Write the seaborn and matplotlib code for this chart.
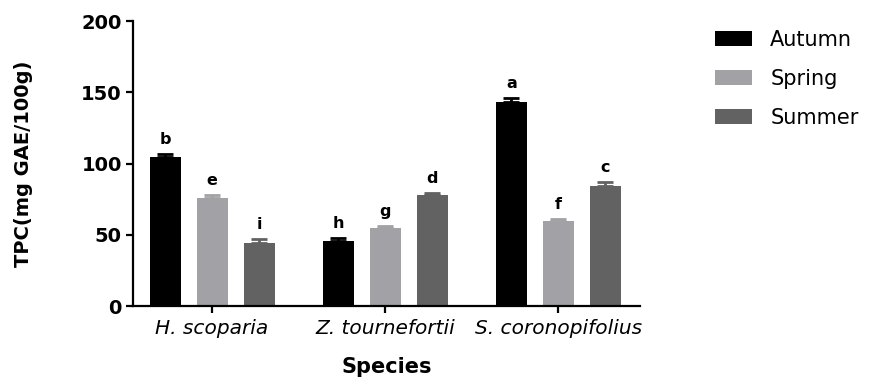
import seaborn as sns
import matplotlib.pyplot as plt
import pandas as pd

species = ["H. scoparia", "Z. tournefortii", "S. coronopifolius"]
seasons = ["Autumn", "Spring", "Summer"]
autumn = [105, 45.5, 143.5]
spring = [76, 55, 60]
summer = [44, 78, 84]
autumn_err = [1.5, 2.5, 2.3]
spring_err = [2.0, 1.3, 1.5]
summer_err = [3.0, 1.5, 3.0]
autumn_letters = ["b", "h", "a"]
spring_letters = ["e", "g", "f"]
summer_letters = ["i", "d", "c"]

colors = {"Autumn": "#000000", "Spring": "#a2a2a6", "Summer": "#626262"}

values = [autumn, spring, summer]
errors = [autumn_err, spring_err, summer_err]
letters = [autumn_letters, spring_letters, summer_letters]

rows = []
for s, vals in zip(seasons, values):
    for sp, v in zip(species, vals):
        rows.append({"Species": sp, "Season": s, "TPC": v})
df = pd.DataFrame(rows)

sns.set_style("ticks")
plt.rcParams["font.family"] = ["DejaVu Sans"]
plt.rcParams.update({"text.color": "black", "axes.labelcolor": "black",
                     "xtick.color": "black", "ytick.color": "black",
                     "axes.edgecolor": "black"})

fig = plt.figure(figsize=(8.75, 3.78), dpi=100)
ax = fig.add_axes([0.152, 0.190, 0.579, 0.754])

sns.barplot(data=df, x="Species", y="TPC", hue="Season", order=species,
            hue_order=seasons, palette=colors, errorbar=None, width=0.815,
            gap=0.34, saturation=1, linewidth=0, ax=ax)

for cont, s, errs, labs in zip(ax.containers, seasons, errors, letters):
    for bar, e, lab in zip(cont, errs, labs):
        x = bar.get_x() + bar.get_width() / 2
        h = bar.get_height()
        ax.errorbar(x, h, yerr=[[0], [e]], color=colors[s], capsize=5.5,
                    capthick=2, elinewidth=2, zorder=3)
        ax.annotate(lab, (x, h + e), xytext=(0, 5), textcoords="offset points",
                    ha="center", va="bottom", fontsize=11.5, fontweight="bold")

ax.set_ylim(0, 200)
ax.set_yticks([0, 50, 100, 150, 200])
ax.set_xlim(-0.457, 2.47)
for side in ["top", "right"]:
    ax.spines[side].set_visible(False)
for side in ["left", "bottom"]:
    ax.spines[side].set_linewidth(1.6)

ax.tick_params(axis="y", length=5, width=1.6, labelsize=14, pad=3)
ax.tick_params(axis="x", length=5, width=1.6, labelsize=14.5, pad=4)
for t in ax.get_yticklabels():
    t.set_fontweight("bold")
for t in ax.get_xticklabels():
    t.set_fontstyle("italic")

ax.set_ylabel("TPC(mg GAE/100g)", fontsize=14, fontweight="bold")
ax.yaxis.set_label_coords(-0.197, 0.5)
ax.set_xlabel("Species", fontsize=15, fontweight="bold")
ax.xaxis.set_label_coords(0.5, -0.18)

handles, labels = ax.get_legend_handles_labels()
ax.get_legend().remove()
fig.legend(handles, labels, loc="upper left", bbox_to_anchor=(715 / 875, 1 - 30 / 378),
           frameon=False, fontsize=15, handlelength=1.78, handleheight=0.72,
           handletextpad=0.87, labelspacing=0.9, borderpad=0, borderaxespad=0)

fig.savefig("out.png", dpi=100)
